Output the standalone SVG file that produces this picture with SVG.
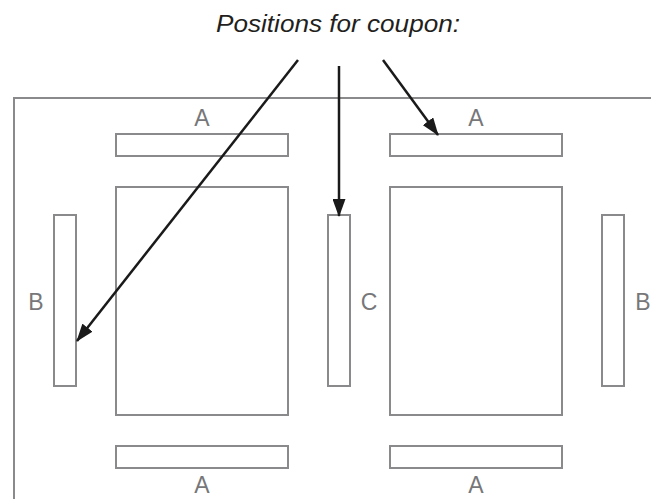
<svg xmlns="http://www.w3.org/2000/svg" width="651" height="499" viewBox="0 0 651 499">
  <style>
    .box { fill: none; stroke: #8a8a8c; stroke-width: 2; }
    .lbl { font-family: "Liberation Sans", Arial, sans-serif; font-size: 23px; fill: #77777a; text-anchor: middle; }
    .title { font-family: "Liberation Sans", Arial, sans-serif; font-size: 23px; font-style: italic; fill: #231f20; text-anchor: middle; }
    .arrow { stroke: #1a1a1a; stroke-width: 2.5; fill: none; marker-end: url(#ah); }
  </style>
  <defs>
    <marker id="ah" markerUnits="userSpaceOnUse" markerWidth="18" markerHeight="13" refX="17" refY="6.5" orient="auto">
      <path d="M0,0 L18,6.5 L0,13 Z" fill="#1a1a1a"/>
    </marker>
  </defs>
  <rect width="651" height="499" fill="#ffffff"/>
  <text class="title" x="338" y="32" textLength="244" lengthAdjust="spacingAndGlyphs">Positions for coupon:</text>
  <g id="frame">
    <polyline class="box" points="14,499 14,98 651,98"/>
  </g>
  <g id="a-top-left"><rect class="box" x="116" y="134" width="172" height="22"/><text class="lbl" x="202" y="126">A</text></g>
  <g id="a-top-right"><rect class="box" x="390" y="134" width="172" height="22"/><text class="lbl" x="476" y="126">A</text></g>
  <g id="page-left"><rect class="box" x="116" y="187" width="172" height="228"/></g>
  <g id="page-right"><rect class="box" x="390" y="187" width="172" height="228"/></g>
  <g id="b-left"><rect class="box" x="54" y="215" width="22" height="171"/><text class="lbl" x="36" y="310">B</text></g>
  <g id="c-mid"><rect class="box" x="328" y="215" width="22" height="171"/><text class="lbl" x="369" y="310">C</text></g>
  <g id="b-right"><rect class="box" x="602" y="215" width="22" height="171"/><text class="lbl" x="643" y="310">B</text></g>
  <g id="a-bot-left"><rect class="box" x="116" y="446" width="172" height="22"/><text class="lbl" x="202" y="493">A</text></g>
  <g id="a-bot-right"><rect class="box" x="390" y="446" width="172" height="22"/><text class="lbl" x="476" y="493">A</text></g>
  <g id="connectors">
    <line class="arrow" x1="298" y1="60" x2="77" y2="341"/>
    <line class="arrow" x1="339" y1="66" x2="339" y2="216"/>
    <line class="arrow" x1="383" y1="60" x2="438" y2="135"/>
  </g>
</svg>
